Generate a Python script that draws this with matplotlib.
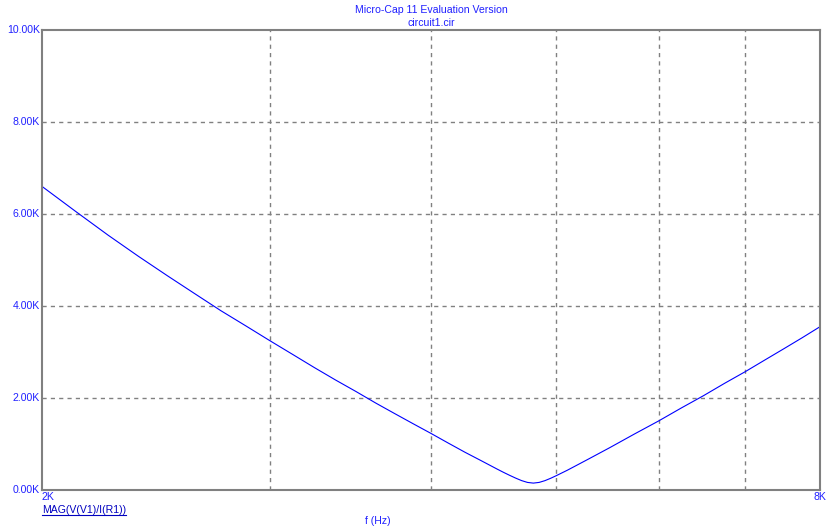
import matplotlib
matplotlib.use("Agg")
import matplotlib.pyplot as plt
from matplotlib.ticker import FixedLocator, NullFormatter

# Data (frequency in Hz, magnitude in ohms)
freq_hz = [2000, 2125, 2250, 2375, 2500, 2625, 2750, 2875, 3000, 3125, 3250,
           3375, 3500, 3625, 3750, 3875, 4000, 4125, 4250, 4375, 4500, 4550,
           4600, 4650, 4700, 4750, 4800, 4850, 4900, 4950, 5000, 5100, 5200,
           5300, 5500, 5750, 6000, 6250, 6500, 6750, 7000, 7250, 7500, 7750, 8000]
mag_ohm = [6600, 6050, 5540, 5080, 4660, 4270, 3900, 3570, 3250, 2950, 2660,
           2390, 2140, 1890, 1660, 1440, 1230, 1020, 820, 636, 455, 386,
           321, 260, 205, 165, 150, 165, 203, 254, 311, 430, 555,
           678, 920, 1220, 1500, 1785, 2050, 2320, 2570, 2825, 3070, 3310, 3550]

y_ticks = [0, 2000, 4000, 6000, 8000, 10000]
y_labels = ["0.00K", "2.00K", "4.00K", "6.00K", "8.00K", "10.00K"]
x_grid = [3000, 4000, 5000, 6000, 7000]

W, H = 839, 532
fig = plt.figure(figsize=(W / 100, H / 100), dpi=100)
fig.patch.set_facecolor("white")
plt.rcParams["font.family"] = ["Liberation Sans", "DejaVu Sans"]

L, R, T, B = 42, 820, 30, 490
ax = fig.add_axes([L / W, 1 - B / H, (R - L) / W, (B - T) / H])
ax.set_xscale("log")
ax.set_xlim(2000, 8000)
ax.set_ylim(0, 10000)

ax.plot(freq_hz, mag_ohm, color="#0000ff", lw=0.8)

ax.xaxis.set_major_locator(FixedLocator([]))
ax.xaxis.set_minor_locator(FixedLocator(x_grid))
ax.xaxis.set_minor_formatter(NullFormatter())
ax.set_yticks(y_ticks[1:-1])
ax.set_yticklabels([])
ax.tick_params(axis="both", which="both", length=0)
ax.grid(True, which="minor", axis="x", color="#808080", ls=(0, (3, 3)), lw=1)
ax.grid(True, which="major", axis="y", color="#808080", ls=(0, (3, 3)), lw=1)
for s in ax.spines.values():
    s.set_color("#808080")
    s.set_linewidth(1.5)

blue = "#2020ff"
fs = 7.6
def px(x, y):
    return x / W, 1 - y / H

for v, lab in zip(y_ticks, y_labels):
    yp = B - (B - T) * v / 10000
    fig.text(*px(40, yp), lab, ha="right", va="center", color=blue, fontsize=fs)

fig.text(*px(42, 497), "2K", ha="left", va="center", color=blue, fontsize=fs)
fig.text(*px(826, 497), "8K", ha="right", va="center", color=blue, fontsize=fs)
fig.text(*px(431, 10), "Micro-Cap 11 Evaluation Version", ha="center", va="center",
         color=blue, fontsize=fs)
fig.text(*px(431, 23), "circuit1.cir", ha="center", va="center", color=blue, fontsize=fs)
fig.text(*px(378, 521), "f (Hz)", ha="center", va="center", color=blue, fontsize=fs)
t = fig.text(*px(42, 510), "MAG(V(V1)/I(R1))", ha="left", va="center",
             color="#0000c0", fontsize=fs)
# underline
fig.canvas.draw()
bb = t.get_window_extent()
fig.add_artist(plt.Line2D([bb.x0 / W, bb.x1 / W], [(bb.y0 + 0.5) / H, (bb.y0 + 0.5) / H],
                          color="#0000c0", lw=0.8, transform=fig.transFigure))

fig.savefig("out.png", dpi=100, facecolor="white")
